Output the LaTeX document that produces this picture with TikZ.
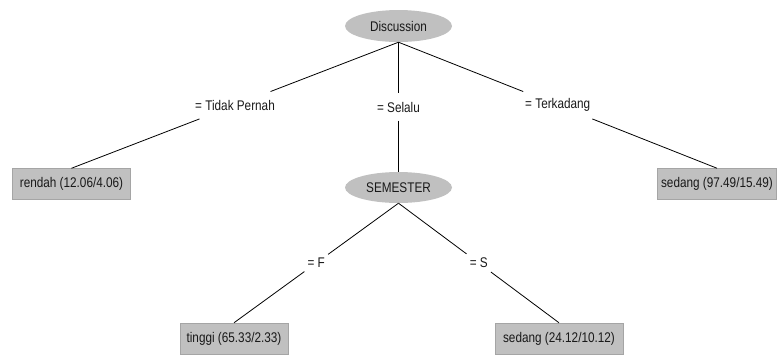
\documentclass[tikz,border=0pt]{standalone}
\usepackage{fontspec}
\setmainfont[FakeStretch=0.84]{Liberation Sans}
\usetikzlibrary{shapes.geometric,calc}
\definecolor{nodegray}{RGB}{192,192,192}
\definecolor{edgegray}{RGB}{165,165,165}
\definecolor{txt}{RGB}{25,25,25}
\tikzset{
  inner/.style={ellipse, fill=nodegray, draw=none, minimum width=107pt, minimum height=32pt, inner sep=0pt, text=txt, font=\fontsize{14}{16}\selectfont},
  leaf/.style={rectangle, fill=nodegray, draw=edgegray, line width=0.5pt, minimum height=31pt, inner sep=0pt, text=txt, font=\fontsize{14}{16}\selectfont},
  elabel/.style={rectangle, draw=none, minimum height=27pt, inner xsep=3pt, inner ysep=0pt, text=txt, font=\fontsize{14}{16}\selectfont},
  conn/.style={draw=black, line width=0.8pt}
}
\begin{document}
\begin{tikzpicture}[x=1pt,y=-1pt]
\useasboundingbox (0,0) rectangle (777,360);
\node[inner] (disc) at (398.5,26) {Discussion};
\node[leaf, minimum width=118pt] (rendah) at (71.5,184) {rendah (12.06/4.06)};
\node[leaf, minimum width=119pt] (sedA) at (717,184) {sedang (97.49/15.49)};
\node[inner, minimum height=31pt] (sem) at (398.5,187.5) {SEMESTER};
\node[leaf, minimum width=108pt] (tinggi) at (234,338.5) {tinggi (65.33/2.33)};
\node[leaf, minimum width=128pt] (sedB) at (559,338.5) {sedang (24.12/10.12)};
\node[elabel] (lTP) at ($(disc.south)!0.5!(rendah.north)$) {= Tidak Pernah};
\node[elabel] (lSe) at ($(disc.south)!0.5!(sem.north)$) {= Selalu};
\node[elabel] (lTe) at ($(disc.south)!0.5!(sedA.north)$) {= Terkadang};
\node[elabel] (lF) at ($(sem.south)!0.5!(tinggi.north)$) {= F};
\node[elabel] (lS) at ($(sem.south)!0.5!(sedB.north)$) {= S};
\draw[conn] (disc.south) -- (lTP);
\draw[conn] (lTP) -- (rendah.north);
\draw[conn] (disc.south) -- (lSe);
\draw[conn] (lSe) -- (sem.north);
\draw[conn] (disc.south) -- (lTe);
\draw[conn] (lTe) -- (sedA.north);
\draw[conn] (sem.south) -- (lF);
\draw[conn] (lF) -- (tinggi.north);
\draw[conn] (sem.south) -- (lS);
\draw[conn] (lS) -- (sedB.north);
\end{tikzpicture}
\end{document}
